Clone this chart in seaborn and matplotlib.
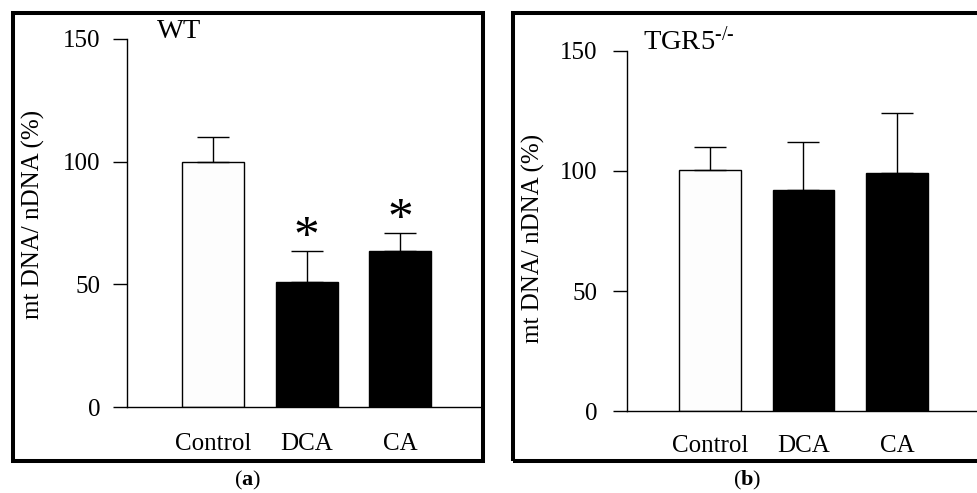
import matplotlib
matplotlib.use("Agg")
import matplotlib.pyplot as plt
import seaborn as sns
import pandas as pd
import numpy as np
from matplotlib.patches import Rectangle

# ---------------- data ----------------
categories = ["Control", "DCA", "CA"]
wt_values = [100.0, 51.0, 63.6]
wt_errors = [10.0, 12.6, 7.2]
wt_significant = [False, True, True]
ko_values = [100.3, 92.0, 99.2]
ko_errors = [9.8, 20.0, 25.0]
ko_significant = [False, False, False]
y_ticks = [0, 50, 100, 150]
y_tick_labels = ["0", "50", "100", "150"]
panel_titles = ["WT", "TGR5$^{\\text{-/-}}$"]
panel_captions = ["($\\mathbf{a}$)", "($\\mathbf{b}$)"]
y_label = "mt DNA/ nDNA (%)"
bar_colors = ["#fdfdfd", "#000000", "#000000"]

# ---------------- style ----------------
sns.set_style("white")
plt.rcParams["font.family"] = ["Liberation Serif", "DejaVu Serif"]
plt.rcParams["mathtext.fontset"] = "custom"
plt.rcParams["mathtext.rm"] = "Liberation Serif"
plt.rcParams["mathtext.it"] = "Liberation Serif:italic"
plt.rcParams["mathtext.bf"] = "Liberation Serif:bold"
plt.rcParams["text.color"] = "black"
plt.rcParams["axes.labelcolor"] = "black"
plt.rcParams["xtick.color"] = "black"
plt.rcParams["ytick.color"] = "black"

W, H = 977, 493
fig = plt.figure(figsize=(W / 100, H / 100), dpi=100)
fig.patch.set_facecolor("white")


def px_axes(l, t, r, b):
    return fig.add_axes([l / W, 1 - b / H, (r - l) / W, (b - t) / H])


panels = [
    dict(box=(127, 39, 481, 407), xlim=(-0.92, 2.866), values=wt_values,
         errors=wt_errors, sig=wt_significant, title=panel_titles[0],
         title_xy=(0.085, 1.02), ylab_xy=(-0.232, 0.522), ypad=9.4, xpad=19,
         frame=(13, 13, 483, 461), caption=panel_captions[0], cap_xy=(248, 480)),
    dict(box=(627, 51, 977, 411), xlim=(-0.888, 2.856), values=ko_values,
         errors=ko_errors, sig=ko_significant, title=panel_titles[1],
         title_xy=(0.046, 1.027), ylab_xy=(-0.234, 0.48), ypad=11.5, xpad=17.5,
         frame=(513, 13, 995, 461), caption=panel_captions[1], cap_xy=(747, 480)),
]

for p in panels:
    ax = px_axes(*p["box"])
    df = pd.DataFrame({"category": categories, "value": p["values"]})
    sns.barplot(data=df, x="category", y="value", hue="category",
                palette=bar_colors, edgecolor="black", linewidth=1.0,
                width=0.663, errorbar=None, legend=False, ax=ax, zorder=2)
    ax.errorbar(x=np.arange(len(categories)), y=p["values"],
                yerr=[np.zeros(len(categories)), p["errors"]],
                fmt="none", ecolor="black", elinewidth=1.0, capsize=11.2,
                capthick=1.0, zorder=3)
    for i, (v, e, s) in enumerate(zip(p["values"], p["errors"], p["sig"])):
        if s:
            ax.annotate("*", xy=(i, v + e), xytext=(0, 1.0),
                        textcoords="offset points", ha="center",
                        va="baseline", fontsize=37, zorder=4)
    ax.set_xlim(*p["xlim"])
    ax.set_ylim(0, 150)
    ax.set_yticks(y_ticks)
    ax.set_yticklabels(y_tick_labels)
    ax.set_xlabel("")
    ax.set_ylabel(y_label, fontsize=18, color="black")
    ax.yaxis.set_label_coords(*p["ylab_xy"])
    ax.tick_params(axis="y", direction="out", length=10, width=1.0,
                   labelsize=18, pad=p["ypad"], left=True, color="black",
                   labelcolor="black")
    ax.tick_params(axis="x", length=0, labelsize=18, pad=p["xpad"],
                   labelcolor="black")
    for side in ["top", "right"]:
        ax.spines[side].set_visible(False)
    for side in ["left", "bottom"]:
        ax.spines[side].set_color("black")
        ax.spines[side].set_linewidth(1.0)
    ax.set_facecolor("white")
    ax.text(*p["title_xy"], p["title"], transform=ax.transAxes, ha="left",
            va="center", fontsize=20.5, color="black")
    l, t, r, b = p["frame"]
    fig.add_artist(Rectangle((l / W, 1 - b / H), (r - l) / W, (b - t) / H,
                             transform=fig.transFigure, fill=False,
                             edgecolor="black", linewidth=2.9))
    fig.text(p["cap_xy"][0] / W, 1 - p["cap_xy"][1] / H, p["caption"],
             ha="center", va="center", fontsize=16, color="black")

fig.savefig("out.png", dpi=100)
